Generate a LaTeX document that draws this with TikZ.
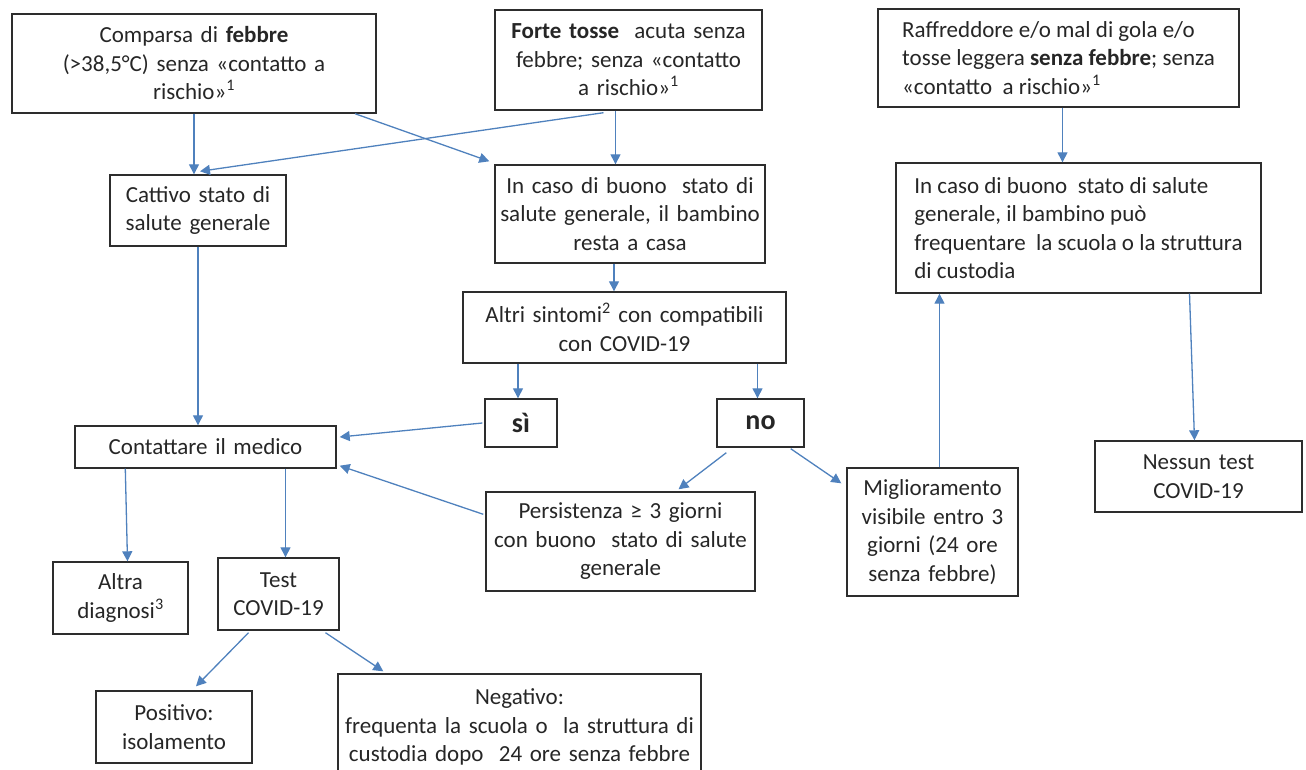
\documentclass[tikz,border=0pt]{standalone}
\usepackage{fontspec}
\setmainfont{Carlito}
\usepackage{xcolor}
\usetikzlibrary{arrows.meta,calc}

\definecolor{arrcol}{RGB}{79,129,189}
\definecolor{boxcol}{RGB}{45,45,45}

\tikzset{
  box/.style={draw=boxcol, line width=1.4pt, inner sep=0pt, align=center, text=black!85, font=\fontsize{23}{28.5}\selectfont},
  lbox/.style={box, align=left},
  arr/.style={draw=arrcol, line width=1.3pt, -{Triangle[length=10pt,width=10pt]}}
}

\begin{document}
\begin{tikzpicture}[x=1pt,y=-1pt]
\useasboundingbox (0,0) rectangle (1306,769);
\clip (0,0) rectangle (1306,769);
% nodes
\node[box, text width=364pt, minimum height=99pt] (febbre) at (194,63.5) {Comparsa di \textbf{febbre}\\(>38,5°C) senza «contatto a\\rischio»\textsuperscript{1}};%
\node[box, text width=267pt, minimum height=100pt] (tosse) at (628.5,60) {\textbf{Forte tosse}\ \ acuta senza\\febbre; senza «contatto\\a rischio»\textsuperscript{1}};%
\node[lbox, minimum width=361pt, minimum height=98pt] (raffr) at (1058.5,58) {Raffreddore e/o mal di gola e/o\\tosse leggera \textbf{senza febbre}; senza\\«contatto\ \ a rischio»\textsuperscript{1}};%
\node[box, text width=176pt, minimum height=71pt] (cattivo) at (198,210.5) {Cattivo stato di\\salute generale};%
\node[box, text width=270pt, minimum height=98pt] (casa) at (630,214) {In caso di buono\ \ stato di\\salute generale, il bambino\\resta a casa};%
\node[lbox, minimum width=365pt, minimum height=130pt] (scuola) at (1078.5,228) {In caso di buono\ \ stato di salute\\generale, il bambino può\\frequentare\ \ la scuola o la struttura\\di custodia};%
\node[box, text width=323pt, minimum height=71pt] (altri) at (624.5,327.5) {Altri sintomi\textsuperscript{2} con compatibili\\con COVID-19};%
\node[box, text width=72pt, minimum height=48pt, font=\fontsize{28}{30}\selectfont\bfseries] (si) at (521,423) {sì};%
\node[box, text width=87pt, minimum height=48pt, font=\fontsize{28}{30}\selectfont\bfseries] (no) at (760.5,423) {no};%
\node[box, text width=261pt, minimum height=42pt] (medico) at (205.5,447) {Contattare il medico};%
\node[box, text width=269pt, minimum height=99pt] (persist) at (620.5,541.5) {Persistenza ≥ 3 giorni\\con buono\ \ stato di salute\\generale};%
\node[box, text width=171pt, minimum height=128pt] (miglior) at (932.5,532) {Miglioramento\\visibile entro 3\\giorni (24 ore\\senza febbre)};%
\node[box, text width=207pt, minimum height=71pt] (nessun) at (1198.5,476.5) {Nessun test\\COVID-19};%
\node[box, text width=135pt, minimum height=72pt] (diagnosi) at (120.5,598) {Altra\\diagnosi\textsuperscript{3}};%
\node[box, text width=121pt, minimum height=72pt] (test) at (278.5,594) {Test\\COVID-19};%
\node[box, text width=156pt, minimum height=72pt] (positivo) at (174,727) {Positivo:\\isolamento};%
\node[box, text width=363pt, minimum height=106pt] (negativo) at (519.5,727) {Negativo:\\frequenta la scuola o\ \ la struttura di\\custodia dopo\ \ 24 ore senza febbre};%

% connectors
\draw[arr] (febbre.south) -- (febbre.south |- cattivo.north);
\draw[arr] ([xshift=161pt]febbre.south) -- ([xshift=-5pt,yshift=3pt]casa.north west);
\draw[arr] ([xshift=-25pt,yshift=-2pt]tosse.south) -- ([xshift=2pt,yshift=3pt]cattivo.north);
\draw[arr] ([xshift=-13pt]tosse.south) -- ([xshift=-13pt]tosse.south |- casa.north);
\draw[arr] ([xshift=4pt]raffr.south) -- ([xshift=4pt]raffr.south |- scuola.north);
\draw[arr] (cattivo.south) -- (cattivo.south |- medico.north);
\draw[arr] ([xshift=-16pt]casa.south) -- ([xshift=-16pt]casa.south |- altri.north);
\draw[arr] ([xshift=-3pt]si.north |- altri.south) -- ([xshift=-3pt]si.north);
\draw[arr] ([xshift=-3pt]no.north |- altri.south) -- ([xshift=-3pt]no.north);
\draw[arr] ([xshift=-2pt]si.west) -- ([xshift=3pt,yshift=10pt]medico.east);
\draw[arr] ([xshift=-2pt,yshift=-23pt]persist.north west) -- ([xshift=3pt,yshift=3pt]medico.south east);
\draw[arr] ([xshift=10pt,yshift=-5pt]no.south west) -- ([xshift=58pt,yshift=2pt]persist.north);
\draw[arr] ([xshift=-14pt,yshift=-1pt]no.south east) -- ([xshift=-5pt,yshift=-16pt]miglior.north west);
\draw[arr] ([xshift=7pt]miglior.north) -- ([xshift=7pt]miglior.north |- scuola.south);
\draw[arr] ([xshift=111pt]scuola.south) -- ([xshift=-4pt]nessun.north);
\draw[arr] ([xshift=51pt]medico.south west) -- ([xshift=7pt]diagnosi.north);
\draw[arr] ([xshift=7pt]test.north |- medico.south) -- ([xshift=7pt]test.north);
\draw[arr] ([xshift=-30pt,yshift=-2pt]test.south) -- ([xshift=22pt,yshift=4pt]positivo.north);
\draw[arr] ([xshift=47pt,yshift=-2pt]test.south) -- ([xshift=46pt,yshift=2pt]negativo.north west);

\end{tikzpicture}
\end{document}
